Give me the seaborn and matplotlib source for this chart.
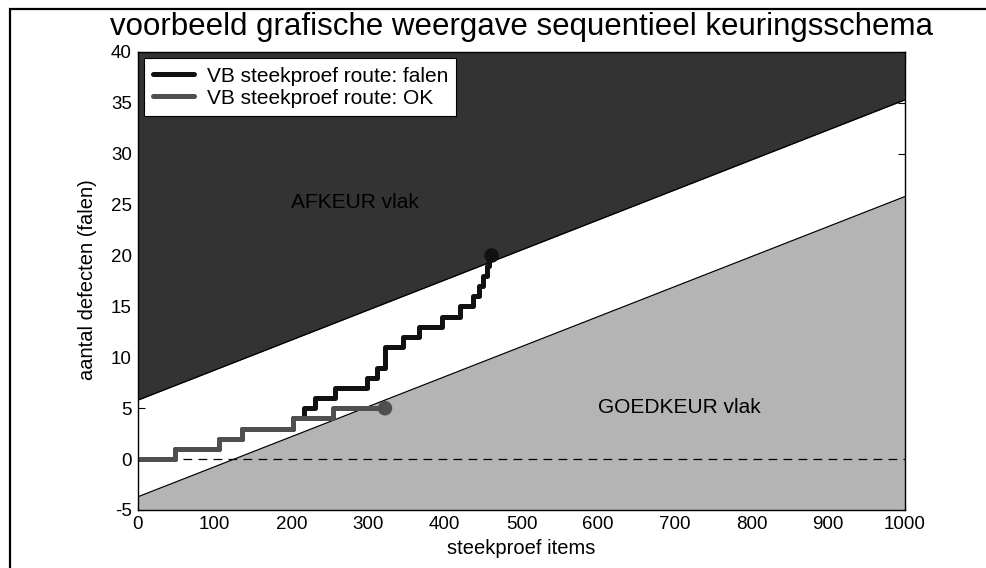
import numpy as np
import pandas as pd
import matplotlib
matplotlib.use("Agg")
import matplotlib.pyplot as plt
from matplotlib.patches import Rectangle
import seaborn as sns

# boundary lines of the sequential scheme (read at x=0 and x=1000)
bound_x = [0, 1000]
reject_line = [5.8, 35.3]
accept_line = [-3.7, 25.8]

# example sample routes: item number where the defect count steps up
fail_x = [0, 48, 106, 135, 202, 216, 231, 257, 298, 311, 322, 322, 346, 366,
          396, 420, 437, 444, 450, 455, 458, 461]
fail_y = [0, 1, 2, 3, 4, 5, 6, 7, 8, 9, 10, 11, 12, 13,
          14, 15, 16, 17, 18, 19, 20, 20]
ok_x = [0, 48, 106, 135, 202, 254, 322]
ok_y = [0, 1, 2, 3, 4, 5, 5]

route_names = ["VB steekproef route: falen", "VB steekproef route: OK"]
route_colors = ["#111111", "#4f4f4f"]
x_ticks = [0, 100, 200, 300, 400, 500, 600, 700, 800, 900, 1000]
y_ticks = [-5, 0, 5, 10, 15, 20, 25, 30, 35, 40]

df = pd.concat([
    pd.DataFrame({"items": fail_x, "defecten": fail_y, "route": route_names[0]}),
    pd.DataFrame({"items": ok_x, "defecten": ok_y, "route": route_names[1]}),
], ignore_index=True)
ends = pd.DataFrame({"items": [fail_x[-1], ok_x[-1]],
                     "defecten": [fail_y[-1], ok_y[-1]],
                     "route": route_names})

sns.set_theme(style="white")
plt.rcParams["font.family"] = ["Liberation Sans", "DejaVu Sans"]
plt.rcParams["text.color"] = "black"
plt.rcParams["xtick.color"] = "black"
plt.rcParams["ytick.color"] = "black"
plt.rcParams["axes.unicode_minus"] = False

fig = plt.figure(figsize=(9.87, 5.68), dpi=100)
ax = fig.add_axes([138 / 987, 1 - 510 / 568, 767 / 987, 458 / 568])
ax.set_axisbelow(True)

# regions
ax.fill_between(bound_x, reject_line, [40, 40], color="#333333", lw=0, zorder=1)
ax.fill_between(bound_x, [-5, -5], accept_line, color="#b4b4b4", lw=0, zorder=1)
ax.plot(bound_x, reject_line, color="black", lw=0.9, zorder=1.5)
ax.plot(bound_x, accept_line, color="black", lw=0.9, zorder=1.5)
ax.axhline(0, color="black", lw=0.9, dashes=(7, 5), zorder=1.6)

# routes
sns.lineplot(data=df, x="items", y="defecten", hue="route", hue_order=route_names,
             palette=route_colors, estimator=None, sort=False, drawstyle="steps-post",
             linewidth=3.6, ax=ax, zorder=3, legend=False)
sns.scatterplot(data=ends, x="items", y="defecten", hue="route", hue_order=route_names,
                palette=route_colors, s=110, edgecolor="none", ax=ax, zorder=4, legend=False)

ax.text(200, 25.2, "AFKEUR vlak", fontsize=15, va="center", ha="left")
ax.text(600, 5.1, "GOEDKEUR vlak", fontsize=15, va="center", ha="left")

ax.set_xlim(0, 1000)
ax.set_ylim(-5, 40)
ax.set_xticks(x_ticks)
ax.set_yticks(y_ticks)
ax.tick_params(direction="in", length=5, width=0.8, color="black", labelsize=13.5,
               top=True, right=True, bottom=True, left=True)
ax.tick_params(axis="x", pad=4)
ax.tick_params(axis="y", pad=4.5)
for s in ax.spines.values():
    s.set_color("black")
    s.set_linewidth(1.0)
    s.set_zorder(5)
ax.set_xlabel("")
ax.set_ylabel("")

handles = [plt.Line2D([], [], color=c, lw=3.6) for c in route_colors]
leg = ax.legend(handles, route_names, loc="upper left", fontsize=15,
                frameon=True, fancybox=False, framealpha=1, edgecolor="black",
                borderaxespad=0.3, handlelength=2.0, handletextpad=0.6,
                labelspacing=0.15, borderpad=0.4)
leg.get_frame().set_linewidth(0.8)
leg.set_zorder(6)

fig.text(521.5 / 987, 1 - 27 / 568, "voorbeeld grafische weergave sequentieel keuringsschema",
         fontsize=22.5, ha="center", va="center")
fig.text(521.5 / 987, 1 - 549 / 568, "steekproef items", fontsize=14.5, ha="center", va="center")
fig.text(88 / 987, 1 - 280 / 568, "aantal defecten (falen)", fontsize=14.5, ha="center",
         va="center", rotation=90)

# outer frame (partly cut off by the image edge)
fig.patches.append(Rectangle((10 / 987, -0.2), 1.2, 1.2 - 9 / 568, fill=False,
                             lw=1.6, edgecolor="black", transform=fig.transFigure,
                             figure=fig))

fig.savefig("out.png", dpi=100)
